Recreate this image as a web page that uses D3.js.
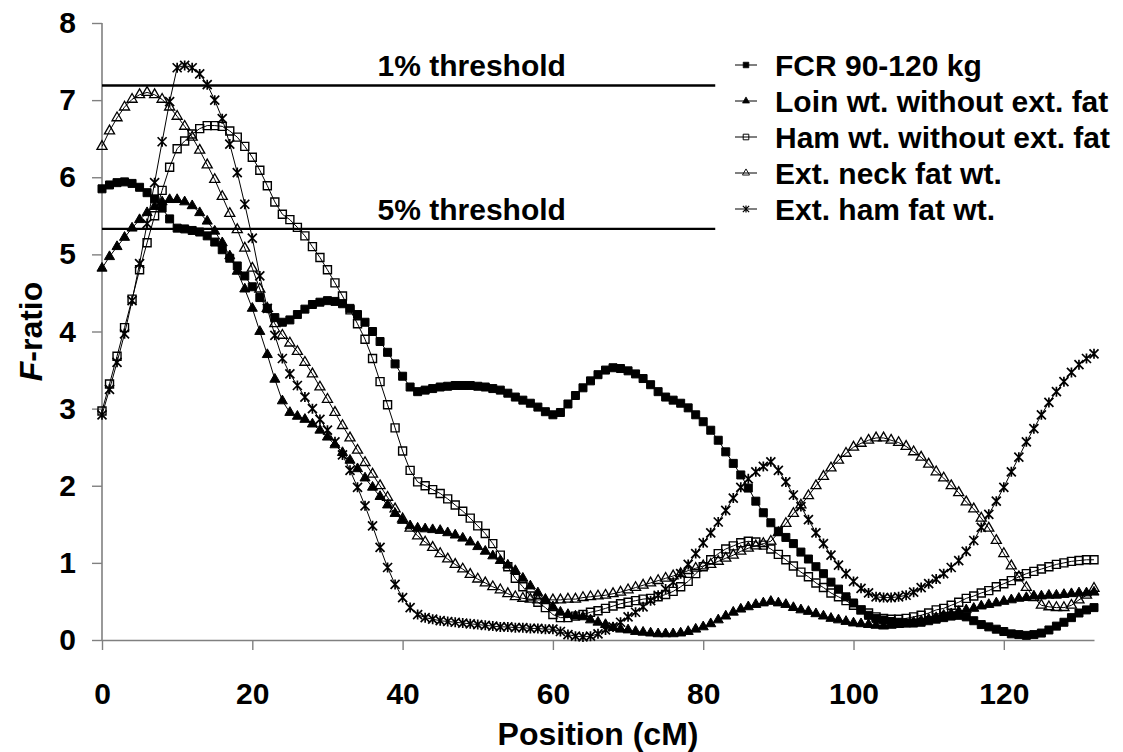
<!DOCTYPE html>
<html>
<head>
<meta charset="utf-8">
<script src="https://cdn.jsdelivr.net/npm/d3@7/dist/d3.min.js"></script>
<style>
  body { margin: 0; background: #fff; }
  svg text { font-family: "Liberation Sans", Arial, sans-serif; font-weight: bold; fill: #000; }
</style>
</head>
<body>
<svg id="chart" width="1123" height="752"></svg>
<script>
// Map positions (cM) along the chromosome
const positionsCM = [
  0,1,2,3,4,5,6,7,8,9,10,11,12,13,14,15,16,17,18,19,20,21,22,23,24,25,26,27,28,29,
  30,31,32,33,34,35,36,37,38,39,40,41,42,43,44,45,46,47,48,49,50,51,52,53,54,55,56,57,58,59,
  60,61,62,63,64,65,66,67,68,69,70,71,72,73,74,75,76,77,78,79,80,81,82,83,84,85,86,87,88,89,
  90,91,92,93,94,95,96,97,98,99,100,101,102,103,104,105,106,107,108,109,110,111,112,113,114,115,116,117,118,119,
  120,121,122,123,124,125,126,127,128,129,130,131,132
];

// F-ratio profiles, one value per cM
const fcr90to120 = [
  5.85,5.90,5.93,5.94,5.92,5.87,5.80,5.72,5.60,5.46,5.34,5.33,5.31,5.29,5.24,5.16,5.06,4.95,
  4.85,4.72,4.58,4.44,4.30,4.18,4.12,4.15,4.22,4.29,4.35,4.38,4.40,4.39,4.36,4.30,4.22,4.12,4.00,3.87,3.73,3.58,3.42,3.28,
  3.22,3.24,3.26,3.28,3.29,3.30,3.30,3.30,3.29,3.28,3.26,3.24,3.20,3.15,3.11,3.07,3.02,2.96,2.92,
  2.95,3.06,3.17,3.27,3.36,3.44,3.50,3.53,3.52,3.49,3.45,3.39,3.31,3.22,3.15,3.11,3.07,3.01,2.92,2.83,
  2.72,2.59,2.44,2.29,2.14,1.97,1.80,1.65,1.52,1.41,1.33,1.25,1.14,1.05,0.95,0.86,0.75,0.66,0.56,0.48,
  0.39,0.32,0.28,0.26,0.24,0.23,0.22,0.22,0.23,0.25,0.27,0.29,0.31,0.32,0.30,0.25,0.20,0.17,0.14,0.11,
  0.08,0.07,0.06,0.07,0.09,0.13,0.18,0.23,0.29,0.35,0.39,0.42
];
const loinWt = [
  4.82,4.97,5.10,5.22,5.34,5.45,5.54,5.62,5.68,5.71,5.71,5.68,5.63,5.54,5.43,5.30,
  5.15,4.98,4.78,4.55,4.30,4.00,3.70,3.38,3.10,2.95,2.90,2.86,2.80,2.72,2.63,2.53,2.43,2.33,2.22,2.10,1.98,1.86,1.75,1.64,1.55,1.48,
  1.45,1.44,1.43,1.42,1.39,1.36,1.32,1.27,1.21,1.15,1.09,1.03,0.97,0.90,0.80,0.70,0.61,0.52,0.43,
  0.36,0.33,0.31,0.30,0.26,0.23,0.20,0.16,0.14,0.13,0.11,0.10,0.09,0.08,0.08,0.08,0.09,0.11,0.14,0.17,0.21,0.26,0.31,0.36,0.40,0.43,0.46,0.48,0.50,0.48,0.46,
  0.42,0.39,0.37,0.34,0.31,0.28,0.26,0.24,0.22,0.21,0.20,0.19,0.18,0.19,0.20,0.21,0.23,0.25,0.27,0.29,0.32,0.34,0.37,0.39,0.41,0.44,0.46,0.48,0.50,0.52,0.54,0.55,0.57,0.57,0.58,0.58,0.59,0.60,0.61,0.61,0.62
];
const hamWt = [
  2.97,3.32,3.68,4.05,4.42,4.80,5.15,5.50,5.83,6.13,6.37,6.47,6.56,6.63,6.67,6.67,6.66,6.60,6.52,6.40,6.26,6.09,5.89,5.68,5.52,5.45,5.35,5.24,5.10,4.96,
  4.80,4.63,4.46,4.28,4.10,3.90,3.65,3.35,3.05,2.75,2.45,2.20,2.05,2.00,1.95,1.90,1.83,1.75,1.67,1.58,1.48,1.38,1.25,1.10,0.95,0.80,
  0.69,0.57,0.49,0.42,0.33,0.29,0.29,0.31,0.33,0.36,0.38,0.41,0.44,0.47,0.49,0.51,0.53,0.54,0.56,0.59,0.63,0.69,0.76,0.86,0.95,1.04,1.12,1.18,1.22,1.26,1.28,1.27,1.23,1.18,1.11,1.04,0.96,0.88,
  0.82,0.74,0.68,0.61,0.56,0.51,0.45,0.39,0.35,0.30,0.28,0.27,0.27,0.28,0.30,0.32,0.35,0.39,0.41,0.45,0.49,0.54,0.57,0.61,0.64,0.69,0.73,0.77,0.82,0.86,0.89,0.92,0.95,0.98,1.00,1.02,1.03,1.04,1.04
];
const neckFatWt = [
  6.40,6.60,6.77,6.91,7.01,7.07,7.10,7.07,7.01,6.91,6.79,6.66,6.52,6.35,6.16,5.97,5.75,5.53,5.32,5.08,
  4.82,4.55,4.30,4.10,3.95,3.85,3.74,3.60,3.45,3.28,3.12,2.95,2.78,2.62,2.46,2.30,2.15,2.00,1.85,1.70,1.57,1.45,1.35,1.27,1.20,1.12,1.05,
  0.98,0.92,0.85,0.79,0.74,0.69,0.65,0.60,0.56,0.54,0.53,0.52,0.52,0.52,0.52,0.53,0.53,0.55,0.56,0.57,0.58,0.60,0.62,0.65,0.68,0.71,0.74,0.77,0.80,0.83,0.86,0.90,0.93,0.96,0.98,1.02,1.06,1.10,1.15,1.19,1.22,1.25,1.28,
  1.39,1.51,1.64,1.75,1.87,2.00,2.12,2.23,2.33,2.42,2.50,2.55,2.59,2.62,2.62,2.59,2.56,2.51,2.44,2.37,2.28,2.18,2.10,2.00,1.91,1.79,1.70,1.58,1.45,1.29,1.12,0.96,0.82,0.68,0.55,0.45,0.43,0.42,0.42,0.45,0.52,0.58,0.67
];
const hamFatWt = [
  2.92,3.25,3.60,3.97,4.40,4.88,5.40,5.93,6.46,6.98,7.42,7.45,7.42,7.34,7.20,7.00,6.76,6.43,6.06,5.65,5.21,
  4.72,4.30,3.95,3.65,3.45,3.30,3.15,3.00,2.86,2.72,2.57,2.40,2.20,1.98,1.74,1.48,1.20,0.94,0.72,0.55,0.42,0.33,0.29,0.27,0.25,
  0.24,0.23,0.22,0.21,0.20,0.19,0.18,0.17,0.17,0.16,0.16,0.15,0.15,0.14,0.14,0.11,0.07,0.05,0.04,0.05,0.08,0.13,0.17,0.23,0.30,0.36,0.43,0.51,0.58,0.66,0.75,0.86,0.98,1.12,1.26,1.39,1.53,1.68,1.84,1.98,2.09,2.18,2.25,2.31,2.20,
  2.05,1.88,1.73,1.56,1.39,1.25,1.10,0.97,0.86,0.76,0.67,0.61,0.56,0.55,0.55,0.56,0.58,0.62,0.68,0.73,0.79,0.86,0.94,1.03,1.15,1.29,1.46,1.63,1.80,1.98,2.18,2.37,2.57,2.74,2.92,3.08,3.22,3.35,3.47,3.57,3.65,3.71
];

const seriesNames = [
  "FCR 90-120 kg",
  "Loin wt. without ext. fat",
  "Ham wt. without ext. fat",
  "Ext. neck fat wt.",
  "Ext. ham fat wt."
];
const seriesValues = [fcr90to120, loinWt, hamWt, neckFatWt, hamFatWt];

// Significance thresholds (F-ratio) and where their lines stop (cM)
const thresholdLabels = ["1% threshold", "5% threshold"];
const thresholdValues = [7.19, 5.33];
const thresholdEndCM = 81.6;

const xTickValues = [0, 20, 40, 60, 80, 100, 120];
const yTickValues = [0, 1, 2, 3, 4, 5, 6, 7, 8];

// ---- drawing ----
const svg = d3.select("#chart");
svg.append("rect").attr("width", 1123).attr("height", 752).attr("fill", "#fff");

const plot = { left: 102, right: 1094, top: 23, bottom: 640 };
const x = d3.scaleLinear().domain([0, 132]).range([plot.left, plot.right]);
const y = d3.scaleLinear().domain([0, 8]).range([plot.bottom, plot.top]);

const axisColor = "#808080";
const fontStack = '"Liberation Sans", Arial, sans-serif';

// y axis
const gy = svg.append("g")
  .attr("transform", `translate(${plot.left},0)`)
  .call(d3.axisLeft(y).tickValues(yTickValues).tickFormat(d3.format("d")).tickSize(10).tickSizeOuter(0).tickPadding(16));
// x axis
const gx = svg.append("g")
  .attr("transform", `translate(0,${plot.bottom})`)
  .call(d3.axisBottom(x).tickValues(xTickValues).tickFormat(d3.format("d")).tickSize(10).tickSizeOuter(0).tickPadding(33));

[gx, gy].forEach(g => {
  g.select(".domain").attr("stroke", axisColor).attr("stroke-width", 1.6);
  g.selectAll(".tick line").attr("stroke", axisColor).attr("stroke-width", 1.4);
  g.selectAll(".tick text").attr("font-size", 30).attr("fill", "#000")
    .style("font-family", fontStack).style("font-weight", "bold");
});
gy.select(".domain").attr("d", `M0,${plot.bottom}V${plot.top}`);

// axis titles
svg.append("text")
  .attr("x", (plot.left + plot.right) / 2).attr("y", 745)
  .attr("text-anchor", "middle").attr("font-size", 32)
  .text("Position (cM)");

const yTitle = svg.append("text")
  .attr("transform", `translate(42,${(plot.top + plot.bottom) / 2}) rotate(-90)`)
  .attr("text-anchor", "middle").attr("font-size", 32);
yTitle.append("tspan").attr("font-style", "italic").text("F");
yTitle.append("tspan").text("-ratio");

// threshold lines
thresholdValues.forEach((v, i) => {
  svg.append("line")
    .attr("x1", x(0)).attr("x2", x(thresholdEndCM))
    .attr("y1", y(v)).attr("y2", y(v))
    .attr("stroke", "#000").attr("stroke-width", 2.4);
  svg.append("text")
    .attr("x", x(49.2)).attr("y", y(v) - 9)
    .attr("text-anchor", "middle").attr("font-size", 30)
    .text(thresholdLabels[i]);
});

// marker drawing per series
const sq = d3.symbol().type(d3.symbolSquare).size(64)();
const tri = d3.symbol().type(d3.symbolTriangle).size(44)();
const star = "M-4.5,-4.5L4.5,4.5M-4.5,4.5L4.5,-4.5M0,-5L0,5";
const markerStyles = [
  { d: sq,   fill: "#000", stroke: "#000", sw: 1 },
  { d: tri,  fill: "#000", stroke: "#000", sw: 1 },
  { d: sq,   fill: "none", stroke: "#000", sw: 1.4 },
  { d: tri,  fill: "none", stroke: "#000", sw: 1.3 },
  { d: star, fill: "none", stroke: "#000", sw: 1.7 }
];

const line = d3.line().x(d => x(d[0])).y(d => y(d[1]));

seriesValues.forEach((vals, si) => {
  const pts = positionsCM.map((p, i) => [p, vals[i]]);
  const g = svg.append("g");
  g.append("path").attr("d", line(pts)).attr("fill", "none").attr("stroke", "#000").attr("stroke-width", 1);
  const m = markerStyles[si];
  g.selectAll("path.mk").data(pts).enter().append("path").attr("class", "mk")
    .attr("transform", d => `translate(${x(d[0])},${y(d[1])})`)
    .attr("d", m.d).attr("fill", m.fill).attr("stroke", m.stroke).attr("stroke-width", m.sw);
});

// legend
const legendRows = [65, 101, 137, 173, 209];
seriesNames.forEach((name, i) => {
  const g = svg.append("g").attr("transform", `translate(746,${legendRows[i]})`);
  g.append("line").attr("x1", -11).attr("x2", 11).attr("stroke", "#000").attr("stroke-width", 1);
  const m = markerStyles[i];
  g.append("path").attr("d", m.d).attr("fill", m.fill).attr("stroke", m.stroke).attr("stroke-width", m.sw)
    .attr("transform", "scale(0.7)");
  g.append("text").attr("x", 29).attr("y", 11).attr("font-size", 30).text(name);
});
</script>
</body>
</html>
